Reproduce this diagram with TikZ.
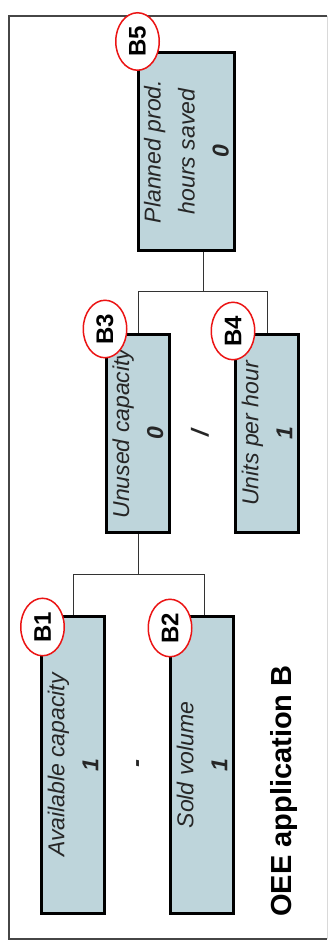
\documentclass[tikz,border=0pt]{standalone}
\usepackage{fontspec}
\setmainfont{Liberation Sans}
\usepackage{tikz}
\usetikzlibrary{shapes,calc}
\definecolor{boxblue}{RGB}{190, 213, 219}
\definecolor{framegray}{RGB}{70, 70, 70}
\definecolor{tagred}{RGB}{235, 20, 20}

\tikzset{
  calcbox/.style={draw=black, line width=3pt, fill=boxblue, rotate=90, align=center,
    inner sep=0pt, text=black!85, font=\fontsize{23}{34}\selectfont\itshape},
  badge/.style={ellipse, draw=tagred, line width=1.5pt, fill=white, rotate=90,
    minimum width=57.5pt, minimum height=43.5pt, inner sep=0pt,
    font=\fontsize{24}{24}\selectfont\bfseries},
  wire/.style={draw=black!80, line width=1pt},
  oper/.style={rotate=90, text=black!85, font=\fontsize{24}{24}\selectfont\bfseries\itshape}
}

\begin{document}
\begin{tikzpicture}[x=1pt, y=-1pt]
            \useasboundingbox (0,0) rectangle (329,949);

            % Frame round the sheet
            \draw[framegray, line width=1.3pt] (327,16) -- (9,16) -- (9,939) -- (327,939);
            \draw[black!15, line width=1pt] (327,16) -- (327,939);

            % Result at the top
            \node[calcbox, minimum width=198pt, minimum height=96pt] (b5) at (186.5,151.5)
                {Planned prod.\\hours saved\\\bfseries 0};

            % Middle level
            \node[calcbox, minimum width=198pt, minimum height=63pt] (b3) at (138,433.5)
                {Unused capacity\\\bfseries 0};
            \node[calcbox, minimum width=198pt, minimum height=63pt] (b4) at (267,433.5)
                {Units per hour\\\bfseries 1};
            \node[oper] (div) at (200,433) {/};

            % Inputs
            \node[calcbox, minimum width=297pt, minimum height=63pt] (b1) at (73,765)
                {Available capacity\\\bfseries 1};
            \node[calcbox, minimum width=297pt, minimum height=63pt] (b2) at (202,765)
                {Sold volume\\\bfseries 1};
            \node[oper] (minus) at (140,763) {-};

            % Tree lines
            \draw[wire] ([xshift=16.5pt]b5.west) -- ++(0,39) coordinate (j5);
            \draw[wire] (j5) -| (b3.east);
            \draw[wire] (j5) -| (b4.east);

            \draw[wire] (b3.west) -- ++(0,40) coordinate (j3);
            \draw[wire] (j3) -| (b1.east);
            \draw[wire] ($(b2.east)+(2,0)$) |- (j3);

            % Red tags
            \node[badge] (t5) at (137.5,41.5) {B5};
            \node[badge] (t3) at (105,329) {B3};
            \node[badge] (t4) at (233,331) {B4};
            \node[badge] (t1) at (42.5,627) {B1};
            \node[badge] (t2) at (170,628) {B2};

            % Title
            \node[rotate=90, font=\fontsize{29}{29}\selectfont\bfseries] (title) at (284,791)
                {OEE application B};
        \end{tikzpicture}
\end{document}
